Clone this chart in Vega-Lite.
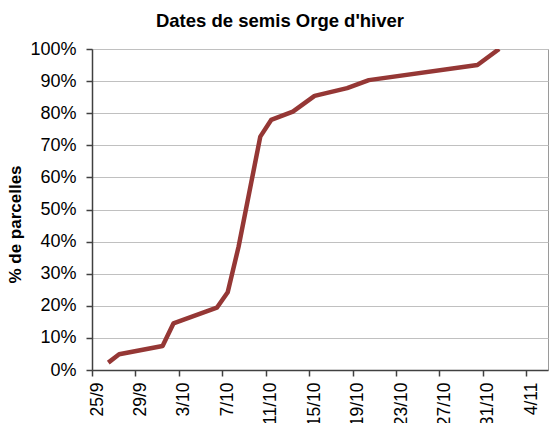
{
  "$schema": "https://vega.github.io/schema/vega-lite/v6.json",
  "width": 456,
  "height": 321,
  "autosize": "none",
  "padding": {"left": 92, "top": 49, "right": 1, "bottom": 53},
  "background": "white",
  "title": {
    "text": "Dates de semis Orge d'hiver",
    "font": "Liberation Sans",
    "fontSize": 18.5,
    "fontWeight": "bold",
    "color": "#000000",
    "anchor": "middle",
    "frame": "group",
    "dx": -40,
    "dy": 26,
    "baseline": "alphabetic",
    "offset": 21
  },
  "config": {
    "view": {"stroke": "#9a9a9a", "strokeWidth": 1},
    "axis": {"labelFont": "Liberation Sans", "titleFont": "Liberation Sans", "labelColor": "#000000", "titleColor": "#000000"}
  },
  "data": {
    "values": [
      {"date": "2011-09-26T12:00:00", "pct": 0.023},
      {"date": "2011-09-27T12:00:00", "pct": 0.049},
      {"date": "2011-10-01T12:00:00", "pct": 0.075},
      {"date": "2011-10-02T12:00:00", "pct": 0.145},
      {"date": "2011-10-06T12:00:00", "pct": 0.194},
      {"date": "2011-10-07T12:00:00", "pct": 0.242},
      {"date": "2011-10-08T12:00:00", "pct": 0.384},
      {"date": "2011-10-10T12:00:00", "pct": 0.727},
      {"date": "2011-10-11T12:00:00", "pct": 0.779},
      {"date": "2011-10-13T12:00:00", "pct": 0.805},
      {"date": "2011-10-15T12:00:00", "pct": 0.854},
      {"date": "2011-10-18T12:00:00", "pct": 0.878},
      {"date": "2011-10-20T12:00:00", "pct": 0.903},
      {"date": "2011-10-30T12:00:00", "pct": 0.95},
      {"date": "2011-11-01T12:00:00", "pct": 1.0}
    ]
  },
  "mark": {"type": "line", "color": "#953735", "strokeWidth": 4.5, "strokeJoin": "round", "clip": true},
  "encoding": {
    "x": {
      "field": "date",
      "type": "temporal",
      "scale": {"domain": [{"year": 2011, "month": 9, "date": 25}, {"year": 2011, "month": 11, "date": 6}]},
      "axis": {
        "title": null,
        "values": [
          {"year": 2011, "month": 9, "date": 25},
          {"year": 2011, "month": 9, "date": 29},
          {"year": 2011, "month": 10, "date": 3},
          {"year": 2011, "month": 10, "date": 7},
          {"year": 2011, "month": 10, "date": 11},
          {"year": 2011, "month": 10, "date": 15},
          {"year": 2011, "month": 10, "date": 19},
          {"year": 2011, "month": 10, "date": 23},
          {"year": 2011, "month": 10, "date": 27},
          {"year": 2011, "month": 10, "date": 31},
          {"year": 2011, "month": 11, "date": 4}
        ],
        "format": "%-d/%-m",
        "labelAngle": -90,
        "labelAlign": "right",
        "labelBaseline": "middle",
        "labelOffset": 5,
        "labelFontSize": 17.5,
        "labelPadding": 6,
        "labelOverlap": false,
        "labelFlush": false,
        "grid": false,
        "domainColor": "#404040",
        "domainWidth": 1.5,
        "tickColor": "#404040",
        "tickSize": 6,
        "tickWidth": 1.5
      }
    },
    "y": {
      "field": "pct",
      "type": "quantitative",
      "scale": {"domain": [0, 1], "nice": false},
      "axis": {
        "title": "% de parcelles",
        "titleFontSize": 17,
        "titleFontWeight": "bold",
        "titlePadding": 5,
        "titleY": 175,
        "values": [0, 0.1, 0.2, 0.3, 0.4, 0.5, 0.6, 0.7, 0.8, 0.9, 1.0],
        "format": ".0%",
        "labelFontSize": 18,
        "labelPadding": 10,
        "grid": true,
        "gridColor": "#c0c0c0",
        "gridWidth": 1,
        "domainColor": "#404040",
        "domainWidth": 1.5,
        "tickColor": "#404040",
        "tickSize": 6,
        "tickWidth": 1.5
      }
    }
  }
}
